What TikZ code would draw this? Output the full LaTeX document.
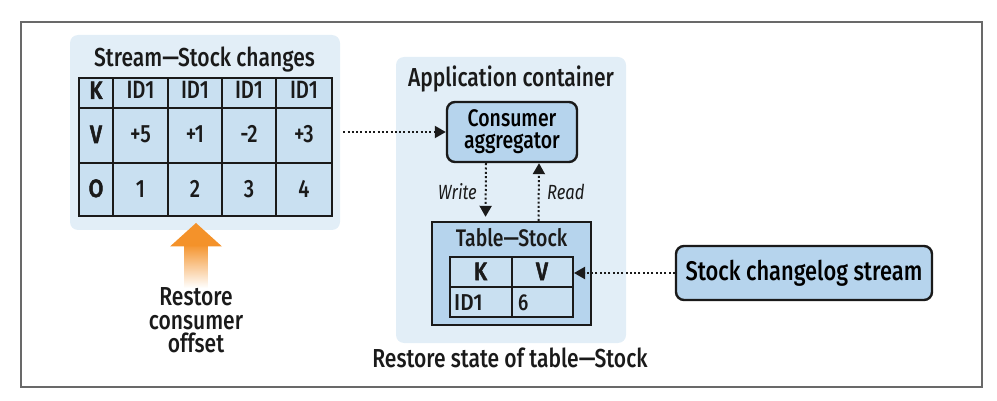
\documentclass[tikz,border=0pt]{standalone}
\usepackage{fontspec}
\setmainfont{Fira Sans Medium}[FakeStretch=0.81,
  BoldFont={Fira Sans Bold}, ItalicFont={Fira Sans Italic}]
\newfontfamily\headfam{Fira Sans Medium}[FakeStretch=0.85, FakeBold=2]
\usepackage{xcolor}
\usepackage{tikz}
\usetikzlibrary{arrows.meta,calc,shadings}
\definecolor{figink}{RGB}{26,26,26}
\definecolor{figframe}{RGB}{105,105,105}
\definecolor{figpanel}{RGB}{226,238,247}
\definecolor{figcell}{RGB}{201,224,241}
\definecolor{figbox}{RGB}{182,212,237}
\definecolor{figorange}{RGB}{244,146,42}
\tikzset{
  panel/.style  ={fill=figpanel, rounded corners=8pt},
  tbl/.style    ={draw=figink, line width=2.4pt, fill=figcell, inner sep=0pt},
  gridln/.style ={draw=figink, line width=2pt},
  proc/.style   ={draw=figink, line width=2.4pt, fill=figbox, rounded corners=8pt, inner sep=0pt, align=center},
  flow/.style   ={draw=figink, line width=2pt, dash pattern=on 2pt off 2.3pt, -{Triangle[length=11pt,width=12pt]}},
  lab/.style    ={font=\fontsize{26}{23.5}\selectfont, text=figink, inner sep=0pt},
  labv/.style   ={font=\fontsize{25}{25}\selectfont, text=figink, inner sep=0pt, anchor=base},
  labk/.style   ={font=\fontsize{25}{25}\selectfont\headfam, text=figink, inner sep=0pt, anchor=base},
  labi/.style   ={font=\fontsize{20.5}{20}\selectfont\itshape, text=figink, inner sep=0pt},
}

\begin{document}
\begin{tikzpicture}[x=1pt,y=-1pt]
  \useasboundingbox (0,0) rectangle (997,401);
  \draw[figframe, line width=1.5pt] (21,22) rectangle (982,387);
  % stream of stock changes
  \fill[panel] (70,35) rectangle (340,230);
  \node[lab,anchor=base] (chgtitle) at (204.5,67) {Stream—Stock changes};
  \node[tbl, minimum width=253pt, minimum height=138pt] (chg) at (205.5,147) {};
  \draw[gridln] (79,108) -- (332,108);
  \draw[gridln] (79,163) -- (332,163);
  \draw[gridln] (113,78) -- (113,216);
  \draw[gridln] (168,78) -- (168,216);
  \draw[gridln] (222,78) -- (222,216);
  \draw[gridln] (276,78) -- (276,216);
  \node[labk] (hk) at (96,99) {K};
  \node[labv] (k1) at (140.5,99) {ID1};
  \node[labv] (k2) at (195,99) {ID1};
  \node[labv] (k3) at (249,99) {ID1};
  \node[labv] (k4) at (304,99) {ID1};
  \node[labk] (hv) at (96,143) {V};
  \node[labv] (v1) at (140.5,143) {+5};
  \node[labv] (v2) at (195,143) {+1};
  \node[labv] (v3) at (249,143) {-2};
  \node[labv] (v4) at (304,143) {+3};
  \node[labk] (ho) at (96,197) {O};
  \node[labv] (o1) at (140.5,197) {1};
  \node[labv] (o2) at (195,197) {2};
  \node[labv] (o3) at (249,197) {3};
  \node[labv] (o4) at (304,197) {4};
  % restore offset
  \shade[top color=figorange, bottom color=white] (184.5,244) rectangle (207.5,288);
  \fill[figorange] (196,223) -- (222,246.5) -- (170,246.5) -- cycle;
  \node[lab,anchor=north,align=center] (rco) at (196,287.5) {Restore\\consumer\\offset};
  % application container
  \fill[panel] (396,57) rectangle (626,343);
  \node[lab,anchor=base] (apptitle) at (511,87) {Application container};
  \node[proc, minimum width=130pt, minimum height=60pt,
        font=\fontsize{24}{22}\selectfont] (agg) at (512,132) {Consumer\\aggregator};
  \node[tbl, fill=figbox, minimum width=159pt, minimum height=103pt] (tbs) at (511.5,273.5) {};
  \node[lab,anchor=base,font=\fontsize{24}{22}\selectfont] (tbstitle) at (511.5,247) {Table—Stock};
  \node[tbl, line width=2pt, minimum width=123pt, minimum height=60pt] (kv) at (511.5,287) {};
  \draw[gridln] (kv.west) -- (kv.east);
  \draw[gridln] (kv.north) -- (kv.south);
  \node[labk] (kvk) at (480.5,280) {K};
  \node[labk] (kvv) at (542,280) {V};
  \node[labv,anchor=base west,font=\fontsize{23}{22}\selectfont\addfontfeature{FakeStretch=0.9}] (kvid) at (454,310) {ID1};
  \node[labv,anchor=base west,font=\fontsize{23}{22}\selectfont] (kvval) at (518,310) {6};
  \node[lab,anchor=base] (rst) at (510,367) {Restore state of table—Stock};
  % changelog
  \node[proc, minimum width=256pt, minimum height=54pt,
        font=\fontsize{27}{26}\selectfont] (strm) at (804,273) {Stock changelog stream};
  % flows
  \draw[flow, shorten <=10pt] (chg.east |- agg.west) -- (agg.west);
  \draw[flow, shorten >=4pt] ([xshift=-26pt]agg.south) -- ([xshift=-26pt]tbs.north);
  \draw[flow] ([xshift=27pt]tbs.north) -- ([xshift=27pt]agg.south);
  \draw[flow] (strm.west) -- (strm.west -| kv.east);
  \node[labi,anchor=base east] (wr) at (477,200) {Write};
  \node[labi,anchor=base west] (rd) at (547,200) {Read};
\end{tikzpicture}
\end{document}
